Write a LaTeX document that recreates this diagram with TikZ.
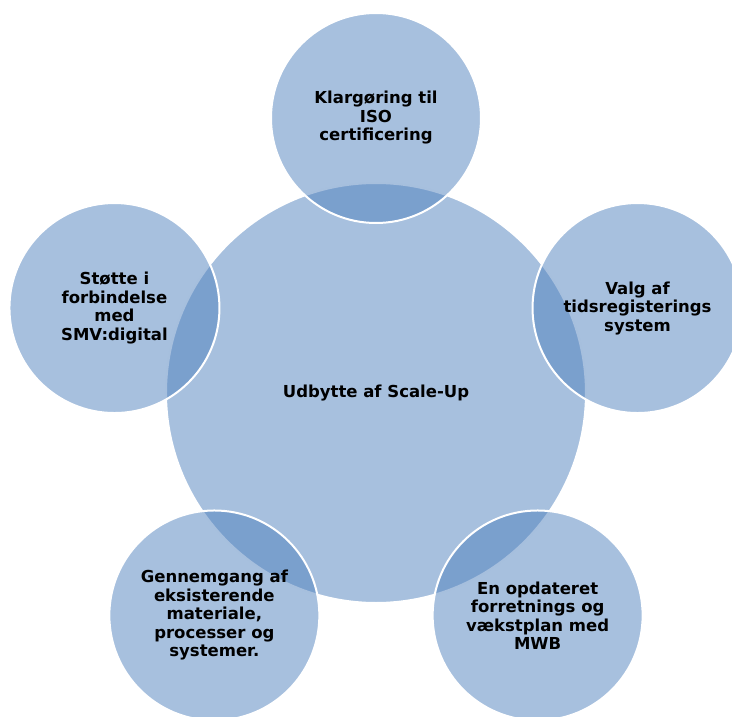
\documentclass[tikz,border=0pt]{standalone}
\usepackage{fontspec}
\setmainfont{DejaVu Sans}
\usepackage{tikz}
\usetikzlibrary{positioning}
\definecolor{accent}{HTML}{4F81BD}

\begin{document}
\begin{tikzpicture}[x=1pt, y=1pt,
    hub/.style={circle, fill=accent, fill opacity=0.5, text opacity=1,
        draw=white, line width=2pt, inner sep=0pt, minimum size=420pt,
        align=center, font=\bfseries\fontsize{16.5}{18.5}\selectfont},
    spoke/.style={hub, minimum size=210pt}]
    \useasboundingbox (-376,-323) rectangle (356,393);
    \clip (-376,-323) rectangle (356,393);
    % centre
    \node[hub] (hub) at (0,0) {Udbytte af Scale-Up};
    % satellites
    \node[spoke] (iso) at (90:275) {Klargøring til\\ISO\\certificering};
    \node[spoke] (tid) at (18:275) {Valg af\\tidsregisterings\\system};
    \node[spoke] (mwb) at (-54:275) {En opdateret\\forretnings og\\vækstplan med\\MWB};
    \node[spoke] (gen) at (-126:275) {Gennemgang af\\eksisterende\\materiale,\\processer og\\systemer.};
    \node[spoke] (smv) at (162:275) {Støtte i\\forbindelse\\med\\SMV:digital};
\end{tikzpicture}
\end{document}
